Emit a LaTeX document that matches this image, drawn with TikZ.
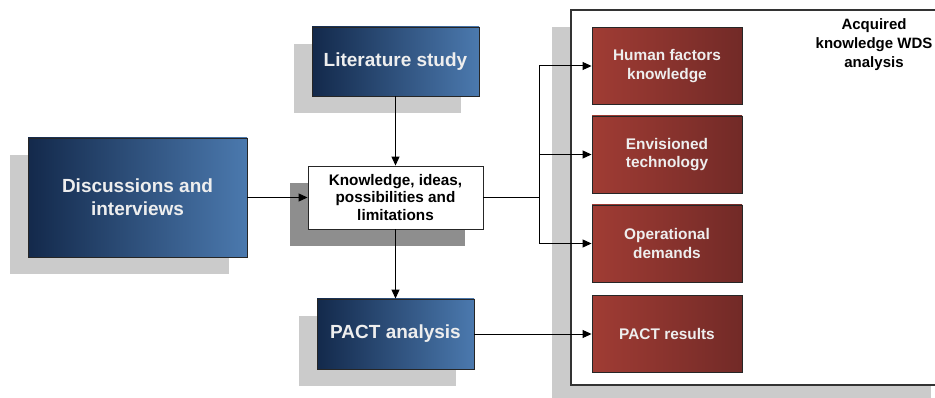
\documentclass[tikz,border=0pt]{standalone}
\usepackage{fontspec}
\setmainfont{Liberation Sans}
\usetikzlibrary{arrows.meta,calc,backgrounds}
\definecolor{bluedark}{HTML}{13294B}
\definecolor{bluelight}{HTML}{4B79AE}
\definecolor{redlight}{HTML}{A03C34}
\definecolor{reddark}{HTML}{722A27}
\definecolor{shadowlight}{HTML}{CBCBCB}
\definecolor{shadowdark}{HTML}{8E8E8E}
\definecolor{offwhite}{HTML}{EEEEEE}
\begin{document}
\begin{tikzpicture}[x=1pt,y=-1pt,
  bluebox/.style={draw=black!85, line width=0.9pt, left color=bluedark, right color=bluelight,
    text=offwhite, font=\bfseries\fontsize{19}{23}\selectfont, align=center, inner sep=0pt},
  redbox/.style={draw=black!85, line width=0.9pt, left color=redlight, right color=reddark,
    text=offwhite, font=\bfseries\fontsize{15.4}{18.5}\selectfont, align=center, inner sep=0pt,
    minimum width=150pt, minimum height=77pt},
  whitebox/.style={draw=black!85, line width=0.9pt, fill=white, text=black,
    font=\bfseries\fontsize{15.3}{17.5}\selectfont, align=center, inner sep=0pt},
  conn/.style={draw=black, line width=1pt},
  arr/.style={conn, -{Triangle[length=9pt,width=8pt]}},
]
\useasboundingbox (0,0) rectangle (935,398);
\clip (0,0) rectangle (935,398);

% container
\node[draw=black!80, line width=1.2pt, fill=white, minimum width=377pt, minimum height=375pt, inner sep=0pt] (wds) at (759.5,197.5) {};
\node[font=\bfseries\fontsize{15}{19}\selectfont, align=center, inner sep=0pt] (wdstitle) at (874,45) {Acquired\\knowledge WDS\\analysis};

% left side boxes
\node[bluebox, minimum width=167pt, minimum height=69pt] (lit) at (395.5,61.5) {Literature study};
\node[bluebox, minimum width=219pt, minimum height=119pt] (disc) at (137.5,197.5) {Discussions and\\interviews};
\node[whitebox, minimum width=175pt, minimum height=63pt] (know) at (395.5,197.5) {Knowledge, ideas,\\possibilities and\\limitations};
\node[bluebox, minimum width=157pt, minimum height=70pt] (pact) at (395.5,334) {PACT analysis};

% red boxes
\node[redbox] (human) at (667,66) {Human factors\\knowledge};
\node[redbox] (env) at (667,154.5) {Envisioned\\technology};
\node[redbox] (oper) at (667,243.5) {Operational\\demands};
\node[redbox] (res) at (667,334) {PACT results};

% shadows
\begin{scope}[on background layer]
  \fill[shadowlight] ($(wds.north west)+(-18,18)$) rectangle ($(wds.south east)+(-18,18)$);
  \fill[shadowlight] ($(lit.north west)+(-18,17)$) rectangle ($(lit.south east)+(-18,17)$);
  \fill[shadowlight] ($(disc.north west)+(-18,17)$) rectangle ($(disc.south east)+(-18,17)$);
  \fill[shadowdark] ($(know.north west)+(-18,17)$) rectangle ($(know.south east)+(-18,17)$);
  \fill[shadowlight] ($(pact.north west)+(-18,17)$) rectangle ($(pact.south east)+(-18,17)$);
\end{scope}

% connectors
\coordinate (branch) at (539,197.5);
\draw[arr] (lit.south) -- (know.north);
\draw[arr] (disc.east) -- (know.west);
\draw[arr] (know.south) -- (pact.north);
\draw[conn] (know.east) -- (branch);
\draw[arr] (branch) |- (human.west);
\draw[arr] (branch) |- (env.west);
\draw[arr] (branch) |- (oper.west);
\draw[arr] (pact.east) -- (res.west);
\end{tikzpicture}
\end{document}
